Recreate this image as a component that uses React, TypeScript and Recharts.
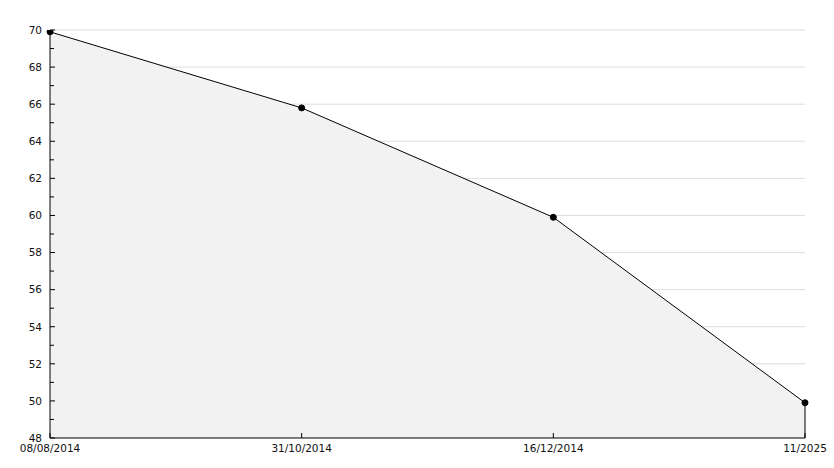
import React from 'react';
import { AreaChart, Area, XAxis, YAxis, CartesianGrid, ReferenceLine } from 'recharts';

const dates = ['08/08/2014', '31/10/2014', '16/12/2014', '11/2025'];
const values = [69.9, 65.8, 59.9, 49.9];
const yTicks = [48, 49, 50, 51, 52, 53, 54, 55, 56, 57, 58, 59, 60, 61, 62, 63, 64, 65, 66, 67, 68, 69, 70];
const yLabels = [48, 50, 52, 54, 56, 58, 60, 62, 64, 66, 68, 70];
const yMin = 48;
const yMax = 70;

const data = dates.map((d, i) => ({ date: d, value: values[i] }));

const FONT = 'DejaVu Sans';

const YTick = (props: any) => {
  const { x, y, payload } = props;
  const axisX = x + 8;
  const v = payload.value;
  const major = yLabels.includes(v);
  return (
    <g>
      <line x1={axisX} x2={axisX + (major ? 5 : 4)} y1={y} y2={y} stroke="#000" strokeWidth={1} />
      {major && (
        <text x={x} y={y} dy="0.36em" textAnchor="end" fontFamily={FONT} fontSize={10.5} fill="#111">
          {v}
        </text>
      )}
    </g>
  );
};

const XTick = (props: any) => {
  const { x, y, payload } = props;
  const axisY = y - 7;
  return (
    <g>
      <line x1={x} x2={x} y1={axisY} y2={axisY - 5} stroke="#000" strokeWidth={1} />
      <text x={x} y={y} dy="0.71em" textAnchor="middle" fontFamily={FONT} fontSize={10.5} fill="#111">
        {payload.value}
      </text>
    </g>
  );
};

const gridGen = (args: any) => {
  const { yAxis, offset } = args || {};
  const vals = yLabels.filter((t) => t !== yMin);
  if (yAxis && typeof yAxis.scale === 'function') return vals.map((t) => yAxis.scale(t));
  return vals.map((t) => offset.top + ((yMax - t) / (yMax - yMin)) * offset.height);
};

export default function App() {
  const last = data[data.length - 1];
  return (
    <div style={{ position: 'absolute', left: 0, top: 0, width: 834, height: 468, background: '#fff' }}>
      <AreaChart width={834} height={468} data={data} margin={{ top: 30, right: 29, left: 0, bottom: 0 }}>
        <CartesianGrid
          vertical={false}
          stroke="#dddddd"
          zIndex={-1000}
          horizontalCoordinatesGenerator={gridGen}
        />
        <XAxis
          dataKey="date"
          height={30}
          tickSize={0}
          tickMargin={7}
          tickLine={false}
          axisLine={{ stroke: '#000' }}
          tick={<XTick />}
          interval={0}
        />
        <YAxis
          width={50}
          domain={[yMin, yMax]}
          ticks={yTicks}
          interval={0}
          tickSize={0}
          tickMargin={8}
          tickLine={false}
          axisLine={{ stroke: '#000' }}
          tick={<YTick />}
          allowDataOverflow
        />
        <Area
          type="linear"
          dataKey="value"
          stroke="#000"
          strokeWidth={1}
          fill="#f2f2f2"
          fillOpacity={1}
          isAnimationActive={false}
          dot={{ r: 3, fill: '#000', stroke: '#000', strokeWidth: 1 }}
          activeDot={false}
        />
        <ReferenceLine
          segment={[
            { x: last.date, y: yMin },
            { x: last.date, y: last.value },
          ]}
          stroke="#000"
          strokeWidth={1}
        />
      </AreaChart>
    </div>
  );
}
